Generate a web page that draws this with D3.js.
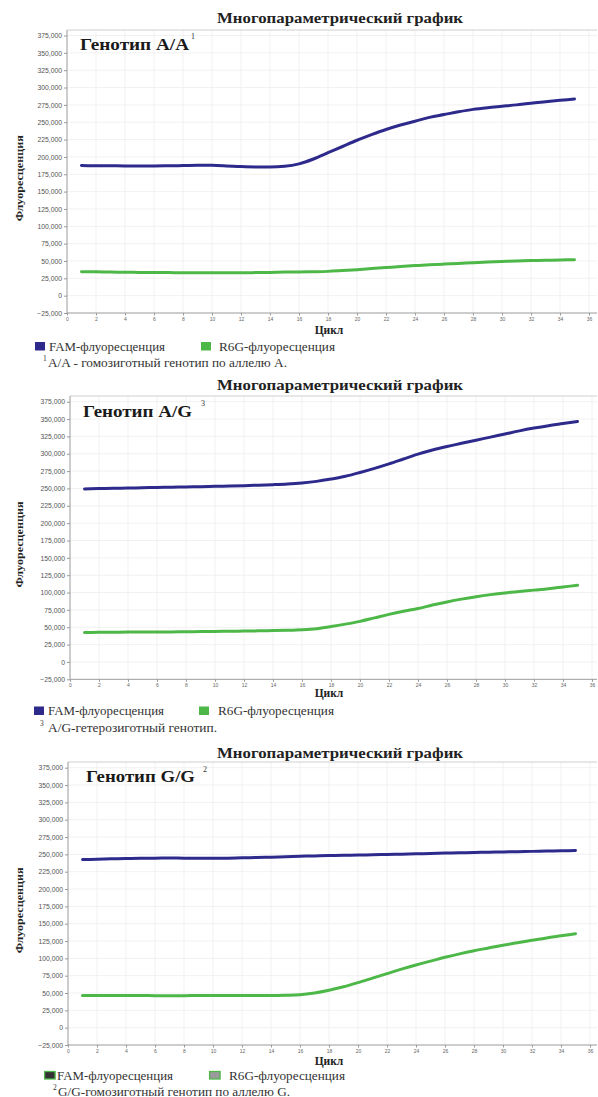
<!DOCTYPE html>
<html>
<head>
<meta charset="utf-8">
<script src="https://cdn.jsdelivr.net/npm/d3@7"></script>
<style>
  body { margin: 0; background: #fff; }
  svg { display: block; }
</style>
</head>
<body>
<svg id="chart" width="598" height="1097"></svg>
<script>
// Cycle numbers (x categories) and axis tick values
const cycles = [1,2,3,4,5,6,7,8,9,10,11,12,13,14,15,16,17,18,19,20,21,22,23,24,25,26,27,28,29,30,31,32,33,34,35];
const xTicks = [0,2,4,6,8,10,12,14,16,18,20,22,24,26,28,30,32,34,36];
const yTicks = [-25000,0,25000,50000,75000,100000,125000,150000,175000,200000,225000,250000,275000,300000,325000,350000,375000];

// Fluorescence per cycle, genotype A/A
const famAA = [187500,187300,187200,187000,187000,187000,187200,187500,188000,187800,187000,186000,185500,185500,186500,
               190000,197000,206000,215000,224000,232000,239500,246000,251500,257000,261000,265000,268500,271000,273000,
               275000,277500,279500,281500,283500];
const r6gAA = [34500,34300,34000,33800,33500,33300,33200,33000,33000,33000,33000,33000,33200,33500,34000,
               34200,34500,35000,36200,37500,39000,40500,42000,43300,44500,45500,46500,47500,48500,49300,
               50000,50500,51000,51400,51800];

// Genotype A/G
const famAG = [249300,249800,250200,250600,251000,251400,251800,252200,252600,253000,253500,254000,254700,255500,256500,
               258000,260200,263500,267500,273000,279000,285500,292500,299500,305500,310500,315000,319500,324000,328500,
               333000,337000,340500,343500,346500];
const r6gAG = [42500,42700,42800,43000,43000,43200,43300,43500,43700,44000,44200,44500,44800,45200,45700,
               46500,48000,51000,54500,58500,63500,68500,73000,77000,82000,86500,90500,94000,97000,99500,
               101500,103500,105500,108000,110500];

// Genotype G/G
const famGG = [242500,243000,243500,244000,244300,244500,244600,244500,244300,244300,244500,245000,245500,246000,246600,
               247200,247800,248300,248700,249000,249400,249800,250300,250800,251300,251800,252300,252700,253100,253500,
               253900,254300,254700,255100,255500];
const r6gGG = [46500,46500,46400,46300,46300,46200,46200,46200,46300,46400,46400,46500,46500,46500,46800,
               47500,50000,54000,59000,65000,71500,78000,84500,90500,96000,101500,106500,111000,115000,119000,
               122500,126000,129500,132500,135500];

// Text content
const chartTitle = "Многопараметрический график";
const yTitle = "Флуоресценция";
const xTitle = "Цикл";
const seriesNames = ["FAM-флуоресценция", "R6G-флуоресценция"];
const genotypes = ["Генотип A/A", "Генотип A/G", "Генотип G/G"];
const genotypeMarks = ["1", "3", "2"];
const notes = ["A/A - гомозиготный генотип по аллелю А.", "A/G-гетерозиготный генотип.", "G/G-гомозиготный генотип по аллелю G."];
const famSeries = [famAA, famAG, famGG];
const r6gSeries = [r6gAA, r6gAG, r6gGG];

// Layout for the three stacked panels
const layout = [
  { x0: 67, yTop: 35.5, yBot: 313, frameTop: 30, titleY: 23, genoX: 80, genoY: 50, supX: 191, supY: 39,
    xLabY: 334, legY: 350.5, legSq: 342, noteY: 366.5, noteSupX: 43, noteTextX: 48, legX: [35, 201], legTX: [49, 219], noteW: 239, variant: "solid" },
  { x0: 70, yTop: 401.7, yBot: 679.3, frameTop: 396, titleY: 390, genoX: 83, genoY: 417, supX: 201, supY: 406,
    xLabY: 697, legY: 714.5, legSq: 706.5, noteY: 732, noteSupX: 40, noteTextX: 48, legX: [34, 199], legTX: [48, 218], noteW: 169, variant: "solid" },
  { x0: 68, yTop: 767.7, yBot: 1045, frameTop: 762, titleY: 758, genoX: 86, genoY: 782, supX: 203, supY: 772,
    xLabY: 1065, legY: 1080, legSq: 1071.5, noteY: 1096, noteSupX: 53, noteTextX: 58, legX: [44, 209], legTX: [57, 229], noteW: 232, variant: "outlined" }
];

const famColor = "#2d2a8c";
const r6gColor = "#4db848";
const serif = "'Liberation Serif', 'Times New Roman', serif";
const sans = "'Liberation Sans', Arial, sans-serif";
const fmt = d3.format(",");

const svg = d3.select("#chart");

layout.forEach((L, i) => {
  const g = svg.append("g");
  const x = d3.scaleLinear().domain([0, 36]).range([L.x0, L.x0 + 522]);
  const y = d3.scaleLinear().domain([-25000, 375000]).range([L.yBot, L.yTop]);
  const right = 597;

  // background grid
  g.append("g").selectAll("line").data(xTicks.slice(1)).join("line")
    .attr("x1", d => x(d)).attr("x2", d => x(d))
    .attr("y1", L.frameTop).attr("y2", L.yBot)
    .attr("stroke", "#eeeeee").attr("stroke-width", 0.8);
  g.append("g").selectAll("line").data(yTicks.slice(1)).join("line")
    .attr("x1", L.x0).attr("x2", right)
    .attr("y1", d => y(d)).attr("y2", d => y(d))
    .attr("stroke", "#eeeeee").attr("stroke-width", 0.8);

  // frame top
  g.append("line").attr("x1", L.x0).attr("x2", right).attr("y1", L.frameTop).attr("y2", L.frameTop)
    .attr("stroke", "#cfcfcf").attr("stroke-width", 1);

  // y axis
  const yAxis = g.append("g").attr("transform", `translate(${L.x0},0)`)
    .call(d3.axisLeft(y).tickValues(yTicks).tickFormat(fmt).tickSize(3).tickPadding(2));
  yAxis.select(".domain").attr("stroke", "#9a9a9a").attr("d", `M0,${L.frameTop}V${L.yBot}`);
  yAxis.selectAll(".tick line").attr("stroke", "#9a9a9a");
  yAxis.selectAll("text").attr("font-family", sans).attr("font-size", 6.8).attr("fill", "#555");

  // x axis
  const xAxis = g.append("g").attr("transform", `translate(0,${L.yBot})`)
    .call(d3.axisBottom(x).tickValues(xTicks).tickFormat(d3.format("d")).tickSize(2.5).tickPadding(1.5));
  xAxis.select(".domain").attr("stroke", "#9a9a9a").attr("d", `M${L.x0},0H${right}`);
  xAxis.selectAll(".tick line").attr("stroke", "#9a9a9a");
  xAxis.selectAll("text").attr("font-family", sans).attr("font-size", 5).attr("fill", "#666");

  // fluorescence curves
  const line = d3.line().x(d => x(d[0])).y(d => y(d[1])).curve(d3.curveMonotoneX);
  [[r6gSeries[i], r6gColor], [famSeries[i], famColor]].forEach(([vals, col]) => {
    g.append("path").datum(cycles.map((c, k) => [c, vals[k]]))
      .attr("d", line).attr("fill", "none").attr("stroke", col)
      .attr("stroke-width", 3).attr("stroke-linecap", "round").attr("stroke-linejoin", "round");
  });

  // chart title
  g.append("text").attr("x", 217).attr("y", L.titleY)
    .attr("font-family", serif).attr("font-weight", "bold").attr("font-size", 15).attr("fill", "#222")
    .attr("textLength", 246).attr("lengthAdjust", "spacingAndGlyphs").text(chartTitle);

  // genotype label with reference mark
  g.append("text").attr("x", L.genoX).attr("y", L.genoY)
    .attr("font-family", serif).attr("font-weight", "bold").attr("font-size", 17).attr("fill", "#1a1a1a")
    .attr("textLength", 109).attr("lengthAdjust", "spacingAndGlyphs").text(genotypes[i]);
  g.append("text").attr("x", L.supX).attr("y", L.supY)
    .attr("font-family", serif).attr("font-size", 8).attr("fill", "#333").text(genotypeMarks[i]);

  // axis titles
  g.append("text").attr("transform", `translate(23,${(L.yTop + L.yBot) / 2 + 4}) rotate(-90)`)
    .attr("text-anchor", "middle").attr("font-family", serif).attr("font-weight", "bold")
    .attr("font-size", 10).attr("fill", "#222").attr("textLength", 86).attr("lengthAdjust", "spacingAndGlyphs")
    .text(yTitle);
  g.append("text").attr("x", 329).attr("y", L.xLabY).attr("text-anchor", "middle")
    .attr("font-family", serif).attr("font-weight", "bold").attr("font-size", 11.5).attr("fill", "#222")
    .text(xTitle);

  // legend
  [famColor, r6gColor].forEach((col, k) => {
    const sq = g.append("rect").attr("x", L.legX[k]).attr("y", L.legSq).attr("width", 10).attr("height", 8.5);
    if (L.variant === "solid") {
      sq.attr("fill", col);
    } else {
      sq.attr("x", L.legX[k] + 0.6).attr("width", 10.5).attr("height", 7.5)
        .attr("fill", k === 0 ? "#333" : "#9a9a9a").attr("stroke", r6gColor).attr("stroke-width", 1.3);
    }
    g.append("text").attr("x", L.legTX[k]).attr("y", L.legY)
      .attr("font-family", serif).attr("font-size", 12).attr("fill", "#333")
      .attr("textLength", 116).attr("lengthAdjust", "spacingAndGlyphs").text(seriesNames[k]);
  });

  // footnote
  g.append("text").attr("x", L.noteSupX).attr("y", L.noteY - 6)
    .attr("font-family", serif).attr("font-size", 7.5).attr("fill", "#333").text(genotypeMarks[i]);
  g.append("text").attr("x", L.noteTextX).attr("y", L.noteY)
    .attr("font-family", serif).attr("font-size", 11.5).attr("fill", "#333")
    .attr("textLength", L.noteW).attr("lengthAdjust", "spacingAndGlyphs").text(notes[i]);
});
</script>
</body>
</html>
